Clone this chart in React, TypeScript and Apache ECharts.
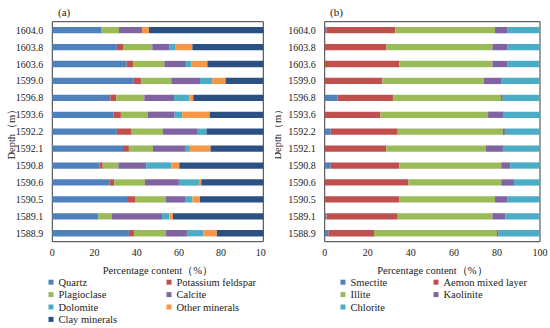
import React, { useEffect, useRef } from "react";
import * as echarts from "echarts";

const depths = ["1604.0", "1603.8", "1603.6", "1599.0", "1596.8", "1593.6", "1592.2", "1592.1", "1590.8", "1590.6", "1590.5", "1589.1", "1588.9"];

// (a) whole-rock minerals, %
const quartz = [23.1, 30.6, 35.2, 38.4, 27.5, 29.1, 30.6, 33.5, 22.3, 27.2, 35.4, 21.8, 36.3];
const kFeldspar = [0, 2.9, 3.3, 3.6, 2.8, 3.4, 6.7, 2.8, 1.6, 2.2, 3.8, 0, 2.4];
const plagioclase = [8.5, 13.9, 14.6, 14.4, 13.3, 12.8, 15.1, 11.4, 7.4, 14.5, 14.5, 6.3, 15.2];
const calcite = [10.9, 8.2, 10.2, 13.6, 14.1, 12.7, 16.2, 15.2, 13.2, 16.1, 9.2, 23.9, 9.9];
const dolomite = [0, 2.9, 2.6, 5.8, 7.2, 3.6, 4.5, 2.3, 11.9, 9.5, 3.5, 3.5, 7.8];
const otherMinerals = [3.3, 7.9, 7.6, 6.3, 1.9, 13.0, 0, 9.8, 3.8, 1.1, 3.6, 1.7, 6.4];
const clayMinerals = [54.2, 33.6, 26.5, 17.9, 33.2, 25.4, 26.9, 25.0, 39.8, 29.4, 30.0, 42.8, 22.0];

// (b) clay minerals, %
const smectite = [0.8, 0, 0, 0, 5.9, 0, 2.8, 0, 2.8, 0, 0, 0.8, 1.7];
const aemonMixed = [32.0, 28.6, 34.7, 26.8, 25.8, 25.9, 31.1, 28.6, 31.9, 38.9, 34.7, 33.1, 21.2];
const illite = [46.3, 49.3, 43.2, 47.2, 50.2, 50.0, 48.9, 46.3, 47.3, 43.1, 44.4, 44.0, 57.1];
const kaolinite = [5.9, 7.1, 7.1, 7.9, 0.8, 6.9, 0.9, 7.9, 4.1, 5.9, 5.9, 6.0, 0.8];
const chlorite = [15.0, 15.0, 15.0, 18.1, 17.3, 17.2, 16.3, 17.2, 13.9, 12.1, 15.0, 16.1, 19.2];

const leftNames = ["Quartz", "Potassium feldspar", "Plagioclase", "Calcite", "Dolomite", "Other minerals", "Clay minerals"];
const leftData = [quartz, kFeldspar, plagioclase, calcite, dolomite, otherMinerals, clayMinerals];
const leftColors = ["#4F81BD", "#C0504D", "#9BBB59", "#8064A2", "#4BACC6", "#F79646", "#2B5084"];

const rightNames = ["Smectite", "Aemon mixed layer", "Illite", "Kaolinite", "Chlorite"];
const rightData = [smectite, aemonMixed, illite, kaolinite, chlorite];
const rightColors = ["#4F81BD", "#C0504D", "#9BBB59", "#8064A2", "#4BACC6"];

const FONT = "Liberation Serif";
const TXT = "#222";

function buildOption(
  title: string,
  titleLeft: number,
  gridLeft: number,
  gridRight: number,
  nameGapY: number,
  names: string[],
  data: number[][],
  colors: string[],
  legendCols: { left: number; items: string[] }[]
) {
  return {
    animation: false,
    textStyle: { fontFamily: FONT },
    title: {
      text: title,
      left: titleLeft,
      top: 1,
      textStyle: { fontFamily: FONT, fontSize: 11, fontWeight: "normal", color: TXT },
    },
    grid: {
      left: gridLeft,
      right: gridRight,
      top: 21.7,
      bottom: 86.3,
      show: true,
      borderColor: "#3a3a3a",
      borderWidth: 1,
      backgroundColor: "transparent",
      containLabel: false,
      outerBoundsMode: "none",
    },
    legend: legendCols.map((c) => ({
      data: c.items,
      orient: "vertical",
      left: c.left,
      top: 276,
      itemWidth: 5,
      itemHeight: 5,
      itemGap: 0,
      icon: "rect",
      padding: 0,
      textStyle: { fontFamily: FONT, fontSize: 10.5, color: TXT, lineHeight: 12.4 },
    })),
    xAxis: {
      type: "value",
      min: 0,
      max: 100,
      interval: 20,
      name: "Percentage content（%）",
      nameLocation: "middle",
      nameGap: 23,
      nameMoveOverlap: false,
      nameTextStyle: { fontFamily: FONT, fontSize: 10.5, color: TXT },
      axisLine: { show: false },
      axisTick: { show: false },
      splitLine: { show: false },
      axisLabel: { fontFamily: FONT, fontSize: 10, color: TXT, margin: 6, hideOverlap: false },
    },
    yAxis: {
      type: "category",
      data: depths,
      inverse: true,
      name: "Depth（m）",
      nameLocation: "middle",
      nameRotate: 90,
      nameGap: nameGapY,
      nameMoveOverlap: false,
      nameTextStyle: { fontFamily: FONT, fontSize: 10.5, color: TXT },
      axisLine: { show: false },
      axisTick: { show: false },
      axisLabel: { fontFamily: FONT, fontSize: 10, color: TXT, margin: 9 },
    },
    series: names.map((n, i) => ({
      name: n,
      type: "bar",
      stack: "total",
      barWidth: 6.3,
      data: data[i],
      itemStyle: { color: colors[i] },
    })),
  };
}

function ChartBox({ option, style }: { option: any; style: React.CSSProperties }) {
  const ref = useRef<HTMLDivElement>(null);
  useEffect(() => {
    if (!ref.current) return;
    const chart = echarts.init(ref.current, undefined, { renderer: "svg" });
    chart.setOption(option);
    return () => chart.dispose();
  }, [option]);
  return <div ref={ref} style={{ position: "absolute", top: 0, height: 328, overflow: "hidden", ...style }} />;
}

const leftOption = buildOption(
  "(a)",
  53,
  52.3,
  2.7,
  35.5,
  leftNames,
  leftData,
  leftColors,
  [
    { left: 48.5, items: ["Quartz", "Plagioclase", "Dolomite", "Clay minerals"] },
    { left: 166.5, items: ["Potassium feldspar", "Calcite", "Other minerals"] },
  ]
);

const rightOption = buildOption(
  "(b)",
  50,
  49.7,
  10,
  42,
  rightNames,
  rightData,
  rightColors,
  [
    { left: 65.5, items: ["Smectite", "Illite", "Chlorite"] },
    { left: 158.5, items: ["Aemon mixed layer", "Kaolinite"] },
  ]
);

export default function App() {
  return (
    <div style={{ position: "fixed", left: 0, top: 0, width: 550, height: 328, background: "#fff" }}>
      <ChartBox option={leftOption} style={{ left: 0, width: 266 }} />
      <ChartBox option={rightOption} style={{ left: 275, width: 275 }} />
    </div>
  );
}
